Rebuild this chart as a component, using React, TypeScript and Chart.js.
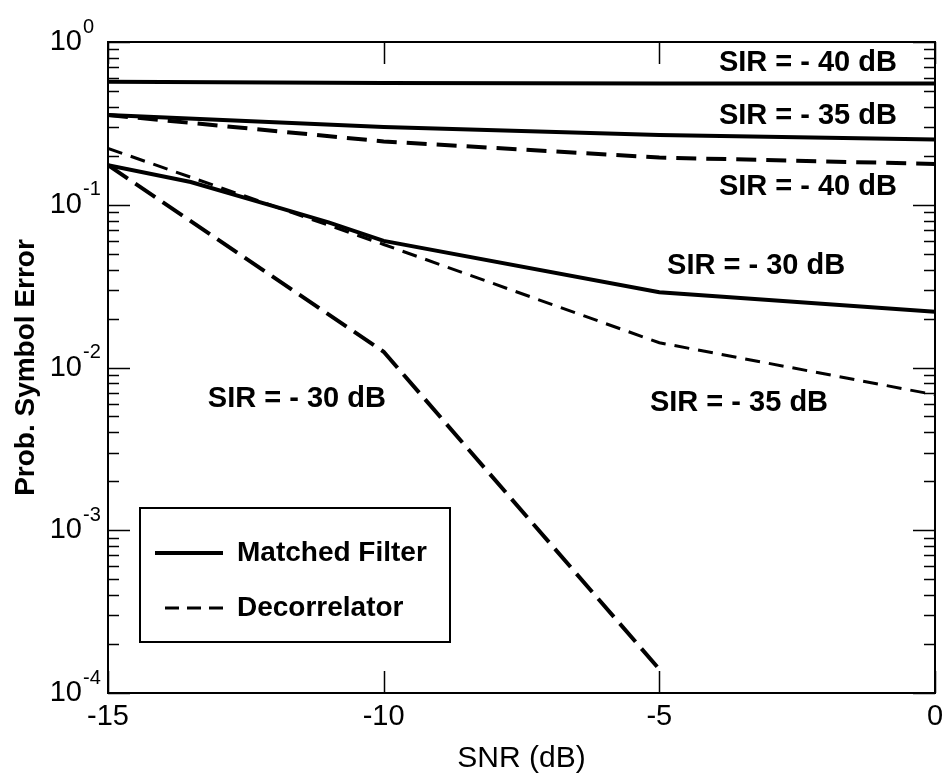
import React, { useEffect, useRef } from "react";
import { Chart, registerables } from "chart.js";

Chart.register(...registerables);

// ---- data ----
const snrFull = [-15, -10, -5, 0];
const snrMf30 = [-15, -13.5, -12, -11, -10, -5, 0];
const snrDec30 = [-15, -10, -5];

const matched40 = [0.57, 0.56, 0.556, 0.555];
const matched35 = [0.356, 0.3, 0.268, 0.252];
const matched30 = [0.175, 0.138, 0.098, 0.078, 0.06, 0.029, 0.022];
const decor40 = [0.356, 0.245, 0.195, 0.178];
const decor35 = [0.222, 0.057, 0.0142, 0.0068];
const decor30 = [0.175, 0.0125, 0.00014];

const xTicks = [-15, -10, -5, 0];
const yDecades = [0, -1, -2, -3, -4];

const legendLabels = ["Matched Filter", "Decorrelator"];

const sirLabels = ["SIR = - 40 dB", "SIR = - 35 dB", "SIR = - 40 dB", "SIR = - 30 dB", "SIR = - 35 dB", "SIR = - 30 dB"];
const sirLabelX = [-3.92, -3.92, -3.92, -4.86, -5.17, -13.19];
const sirLabelY = [0.743, 0.351, 0.1285, 0.042, 0.00605, 0.0064];

const xTitle = "SNR (dB)";
const yTitle = "Prob. Symbol Error";

const FONT = "'Liberation Sans', Arial, sans-serif";

function pts(xs: number[], ys: number[]) {
  return xs.map((x, i) => ({ x, y: ys[i] }));
}

const decorPlugin = {
  id: "decor",
  afterDatasetsDraw(chart: any) {
    const ctx = chart.ctx as CanvasRenderingContext2D;
    const area = chart.chartArea;
    const xs = chart.scales.x;
    const ys = chart.scales.y;
    ctx.save();
    ctx.strokeStyle = "#000";
    ctx.fillStyle = "#000";
    ctx.setLineDash([]);

    // frame
    ctx.lineWidth = 2;
    ctx.strokeRect(area.left, area.top, area.right - area.left, area.bottom - area.top);

    // x ticks (inside, bottom & top)
    ctx.lineWidth = 1.5;
    for (const t of xTicks) {
      const px = Math.round(xs.getPixelForValue(t)) + 0.5;
      ctx.beginPath();
      ctx.moveTo(px, area.bottom);
      ctx.lineTo(px, area.bottom - 22);
      ctx.moveTo(px, area.top);
      ctx.lineTo(px, area.top + 22);
      ctx.stroke();
    }

    // y ticks (major + minor, both sides)
    for (let d = -4; d <= 0; d++) {
      const py = Math.round(ys.getPixelForValue(Math.pow(10, d))) + 0.5;
      ctx.beginPath();
      ctx.moveTo(area.left, py);
      ctx.lineTo(area.left + 22, py);
      ctx.moveTo(area.right, py);
      ctx.lineTo(area.right - 22, py);
      ctx.stroke();
      if (d < 0) {
        for (let m = 2; m <= 9; m++) {
          const my = Math.round(ys.getPixelForValue(m * Math.pow(10, d))) + 0.5;
          ctx.beginPath();
          ctx.moveTo(area.left, my);
          ctx.lineTo(area.left + 11, my);
          ctx.moveTo(area.right, my);
          ctx.lineTo(area.right - 11, my);
          ctx.stroke();
        }
      }
    }

    // x tick labels
    ctx.font = `29px ${FONT}`;
    ctx.textAlign = "center";
    ctx.textBaseline = "middle";
    for (const t of xTicks) {
      ctx.fillText(String(t), xs.getPixelForValue(t), area.bottom + 24);
    }

    // y tick labels 10^n
    for (const d of yDecades) {
      const py = ys.getPixelForValue(Math.pow(10, d));
      ctx.font = `29px ${FONT}`;
      ctx.textAlign = "right";
      ctx.textBaseline = "middle";
      ctx.fillText("10", area.left - 26, py);
      ctx.font = `20px ${FONT}`;
      ctx.textAlign = "left";
      ctx.textBaseline = "middle";
      ctx.fillText(String(d), area.left - 25, py - 15);
    }

    // axis titles
    ctx.font = `30px ${FONT}`;
    ctx.textAlign = "center";
    ctx.textBaseline = "middle";
    ctx.fillText(xTitle, (area.left + area.right) / 2, area.bottom + 66);

    ctx.save();
    ctx.translate(26, (area.top + area.bottom) / 2);
    ctx.rotate(-Math.PI / 2);
    ctx.font = `bold 28px ${FONT}`;
    ctx.fillText(yTitle, 0, 0);
    ctx.restore();

    // SIR labels
    ctx.font = `bold 29px ${FONT}`;
    ctx.textAlign = "left";
    ctx.textBaseline = "middle";
    sirLabels.forEach((s, i) => {
      ctx.fillText(s, xs.getPixelForValue(sirLabelX[i]), ys.getPixelForValue(sirLabelY[i]));
    });

    // legend
    const lx = area.left + 32;
    const ly = area.top + 466;
    const lw = 310;
    const lh = 134;
    ctx.fillStyle = "#fff";
    ctx.fillRect(lx, ly, lw, lh);
    ctx.fillStyle = "#000";
    ctx.lineWidth = 2;
    ctx.strokeRect(lx, ly, lw, lh);
    const row1 = ly + 45;
    const row2 = ly + 100;
    ctx.lineWidth = 4;
    ctx.beginPath();
    ctx.moveTo(lx + 15, row1);
    ctx.lineTo(lx + 83, row1);
    ctx.stroke();
    ctx.lineWidth = 3;
    ctx.setLineDash([14, 8]);
    ctx.beginPath();
    ctx.moveTo(lx + 25, row2);
    ctx.lineTo(lx + 87, row2);
    ctx.stroke();
    ctx.setLineDash([]);
    ctx.font = `bold 28px ${FONT}`;
    ctx.textAlign = "left";
    ctx.textBaseline = "middle";
    ctx.fillText(legendLabels[0], lx + 97, row1);
    ctx.fillText(legendLabels[1], lx + 97, row2);

    ctx.restore();
  },
};

export default function App() {
  const ref = useRef<HTMLCanvasElement | null>(null);
  useEffect(() => {
    if (!ref.current) return;
    const solid = (data: any[]) => ({
      data,
      borderColor: "#000",
      borderWidth: 4,
      pointRadius: 0,
      fill: false,
      tension: 0,
    });
    const dashed = (data: any[], w: number, dash: number[]) => ({
      data,
      borderColor: "#000",
      borderWidth: w,
      borderDash: dash,
      pointRadius: 0,
      fill: false,
      tension: 0,
    });
    const chart = new Chart(ref.current, {
      type: "line",
      data: {
        datasets: [
          { label: "MF -40", ...solid(pts(snrFull, matched40)) },
          { label: "MF -35", ...solid(pts(snrFull, matched35)) },
          { label: "MF -30", ...solid(pts(snrMf30, matched30)) },
          { label: "Dec -40", ...dashed(pts(snrFull, decor40), 4, [20, 10]) },
          { label: "Dec -35", ...dashed(pts(snrFull, decor35), 3, [15, 9]) },
          { label: "Dec -30", ...dashed(pts(snrDec30, decor30), 4, [24, 9]) },
        ],
      },
      options: {
        animation: false,
        responsive: false,
        layout: { padding: { left: 108, top: 42, right: 9, bottom: 81 } },
        plugins: { legend: { display: false }, tooltip: { enabled: false } },
        scales: {
          x: { type: "linear", min: -15, max: 0, display: false },
          y: { type: "logarithmic", min: 1e-4, max: 1, display: false },
        },
      },
      plugins: [decorPlugin],
    });
    return () => chart.destroy();
  }, []);
  return (
    <div style={{ position: "fixed", left: 0, top: 0, width: 944, height: 774, background: "#fff" }}>
      <canvas ref={ref} width={944} height={774} />
    </div>
  );
}
